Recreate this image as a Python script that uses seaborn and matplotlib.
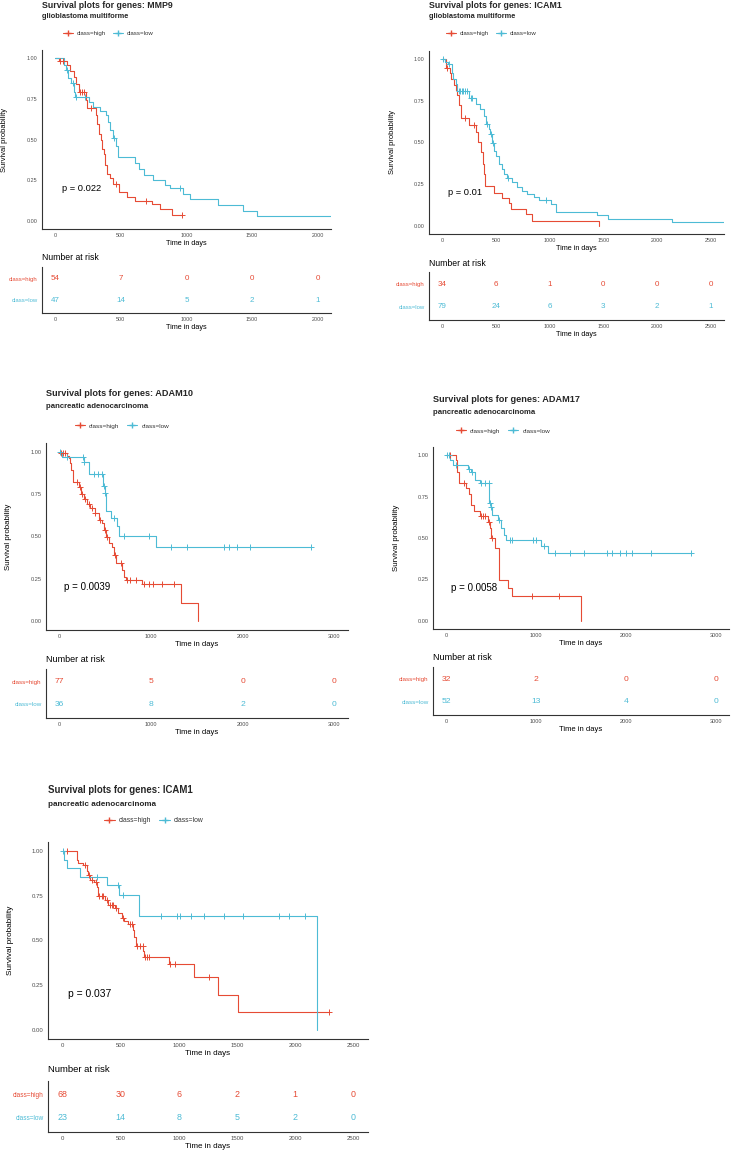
import numpy as np
import matplotlib
matplotlib.use("Agg")
import matplotlib.pyplot as plt
from matplotlib.lines import Line2D
import seaborn as sns

sns.set_style("white")
plt.rcParams['font.family'] = ['Liberation Sans', 'DejaVu Sans']

RED = '#E64B35'
BLUE = '#4DBBD5'
LABELS = ['class=high', 'class=low']

# ---- MMP9, glioblastoma multiforme ----
mmp9_high_t = [0, 33, 89, 114, 140, 160, 178, 236, 245, 310, 322, 335, 348, 360, 372, 383, 393, 419, 444, 489, 550, 608, 735, 798, 887, 963]
mmp9_high_s = [1, .985, .955, .924, .883, .843, .79, .74, .695, .648, .597, .536, .495, .444, .413, .342, .29, .265, .225, .176, .145, .123, .104, .072, .037, .037]
mmp9_high_c = [38, 63, 190, 205, 222, 272, 464, 692, 963]
mmp9_low_t = [0, 65, 80, 101, 119, 140, 152, 261, 292, 342, 388, 406, 418, 440, 464, 481, 609, 642, 673, 744, 838, 875, 976, 1027, 1242, 1429, 1536, 2150]
mmp9_low_s = [1, .96, .925, .88, .85, .79, .76, .73, .70, .677, .65, .61, .558, .51, .457, .39, .358, .32, .28, .25, .22, .20, .163, .133, .096, .061, .031, .031]
mmp9_low_c = [89, 135, 160, 229, 449, 950]
mmp9_risk_high = [54, 7, 0, 0, 0]
mmp9_risk_low = [47, 14, 5, 2, 1]

# ---- ICAM1, glioblastoma multiforme ----
icam_gbm_high_t = [0, 34, 72, 81, 109, 128, 140, 159, 175, 244, 316, 328, 359, 375, 391, 400, 484, 556, 619, 640, 775, 837, 1462]
icam_gbm_high_s = [1, .946, .916, .88, .845, .815, .785, .725, .645, .604, .565, .504, .444, .373, .313, .237, .199, .169, .137, .098, .07, .03, 0.0]
icam_gbm_high_c = [44, 214, 290]
icam_gbm_low_t = [0, 25, 56, 94, 103, 128, 140, 250, 316, 353, 384, 405, 431, 445, 465, 480, 500, 525, 556, 578, 600, 650, 697, 744, 790, 853, 900, 1009, 1056, 1440, 1547, 2140, 2650]
icam_gbm_low_s = [1, .985, .97, .92, .88, .85, .81, .77, .73, .70, .66, .61, .58, .55, .50, .45, .42, .37, .34, .31, .285, .26, .23, .21, .19, .17, .153, .13, .085, .062, .042, .022, .022]
icam_gbm_low_c = [9, 60, 150, 165, 180, 195, 210, 228, 265, 280, 416, 453, 469, 609, 962]
icam_gbm_risk_high = [34, 6, 1, 0, 0, 0]
icam_gbm_risk_low = [79, 24, 6, 3, 2, 1]

# ---- ADAM10, pancreatic adenocarcinoma ----
adam10_high_t = [0, 15, 80, 98, 116, 127, 145, 207, 233, 269, 298, 335, 382, 425, 462, 480, 509, 535, 571, 589, 615, 680, 698, 727, 898, 1327, 1509]
adam10_high_s = [1, .99, .975, .96, .93, .89, .82, .79, .75, .72, .69, .67, .64, .60, .58, .54, .50, .46, .44, .39, .345, .30, .26, .245, .22, .107, 0.0]
adam10_high_c = [18, 36, 62, 189, 225, 245, 280, 315, 355, 390, 435, 490, 520, 600, 669, 735, 764, 836, 916, 971, 1018, 1116, 1251]
adam10_low_t = [0, 25, 262, 316, 473, 491, 509, 564, 625, 651, 1055, 2742]
adam10_low_s = [1, .97, .94, .87, .80, .755, .65, .61, .56, .505, .44, .44]
adam10_low_c = [0, 80, 255, 270, 378, 415, 462, 480, 498, 589, 705, 978, 1218, 1389, 1796, 1855, 1942, 2084, 2742]
adam10_risk_high = [77, 5, 0, 0]
adam10_risk_low = [36, 8, 2, 0]

# ---- ADAM17, pancreatic adenocarcinoma ----
adam17_high_t = [0, 104, 118, 140, 222, 252, 278, 304, 370, 463, 489, 498, 537, 585, 685, 733, 1500]
adam17_high_s = [1, .97, .90, .835, .80, .765, .70, .665, .63, .595, .56, .50, .44, .245, .195, .147, 0.0]
adam17_high_c = [44, 196, 389, 407, 426, 470, 505, 952, 1252]
adam17_low_t = [0, 37, 74, 241, 278, 315, 370, 478, 498, 511, 574, 611, 637, 659, 1056, 1130, 2722]
adam17_low_s = [1, .97, .94, .92, .90, .85, .83, .71, .685, .64, .61, .56, .52, .49, .45, .41, .41]
adam17_low_c = [7, 30, 104, 252, 285, 389, 426, 470, 481, 500, 585, 704, 733, 963, 1000, 1093, 1211, 1378, 1537, 1785, 1844, 1933, 2007, 2074, 2278, 2722]
adam17_risk_high = [32, 2, 0, 0]
adam17_risk_low = [52, 13, 4, 0]

# ---- ICAM1, pancreatic adenocarcinoma ----
icam_paad_high_t = [0, 121, 135, 178, 213, 221, 236, 270, 293, 302, 365, 394, 451, 480, 509, 529, 566, 603, 615, 632, 695, 701, 911, 1132, 1333, 1506, 2290]
icam_paad_high_s = [1, .952, .933, .92, .89, .865, .84, .825, .80, .75, .725, .70, .68, .655, .625, .61, .59, .56, .52, .47, .44, .41, .37, .295, .195, .10, .10]
icam_paad_high_c = [34, 193, 225, 250, 287, 316, 336, 351, 380, 408, 422, 437, 460, 523, 580, 595, 644, 667, 690, 710, 724, 739, 920, 968, 1261, 2290]
icam_paad_low_t = [0, 11, 34, 149, 379, 486, 655, 2184]
icam_paad_low_s = [1, .95, .905, .857, .81, .755, .635, 0.0]
icam_paad_low_c = [6, 293, 480, 523, 845, 983, 1006, 1106, 1218, 1385, 1549, 1859, 1948, 2086]
icam_paad_risk_high = [68, 30, 6, 2, 1, 0]
icam_paad_risk_low = [23, 14, 8, 5, 2, 0]

genes = ['MMP9', 'ICAM1', 'ADAM10', 'ADAM17', 'ICAM1']
cancers = ['glioblastoma multiforme', 'glioblastoma multiforme', 'pancreatic adenocarcinoma',
           'pancreatic adenocarcinoma', 'pancreatic adenocarcinoma']
pvals = ['p = 0.022', 'p = 0.01', 'p = 0.0039', 'p = 0.0058', 'p = 0.037']
breaks = [[0, 500, 1000, 1500, 2000], [0, 500, 1000, 1500, 2000, 2500], [0, 1000, 2000, 3000],
          [0, 1000, 2000, 3000], [0, 500, 1000, 1500, 2000, 2500]]

curves = [
    (mmp9_high_t, mmp9_high_s, mmp9_high_c, mmp9_low_t, mmp9_low_s, mmp9_low_c, mmp9_risk_high, mmp9_risk_low),
    (icam_gbm_high_t, icam_gbm_high_s, icam_gbm_high_c, icam_gbm_low_t, icam_gbm_low_s, icam_gbm_low_c, icam_gbm_risk_high, icam_gbm_risk_low),
    (adam10_high_t, adam10_high_s, adam10_high_c, adam10_low_t, adam10_low_s, adam10_low_c, adam10_risk_high, adam10_risk_low),
    (adam17_high_t, adam17_high_s, adam17_high_c, adam17_low_t, adam17_low_s, adam17_low_c, adam17_risk_high, adam17_risk_low),
    (icam_paad_high_t, icam_paad_high_s, icam_paad_high_c, icam_paad_low_t, icam_paad_low_s, icam_paad_low_c, icam_paad_risk_high, icam_paad_risk_low),
]

# layout in pixels: km box, risk box, title xy, subtitle y, legend xy, "Number at risk" y, xlim, text scale
layout = [
    dict(km=(42, 50, 331, 229), risk=(42, 267, 331, 313), title=(42, 6), sub=17, leg=(63, 33), nar=257, xlim=(-100, 2100), sc=1.0),
    dict(km=(429, 51, 724, 234), risk=(429, 272, 724, 320), title=(429, 6), sub=17, leg=(446, 33), nar=263, xlim=(-125, 2625), sc=1.0),
    dict(km=(46, 443, 348, 630), risk=(46, 669, 348, 718), title=(46, 394), sub=407, leg=(75, 426), nar=660, xlim=(-150, 3150), sc=1.05),
    dict(km=(433, 447, 729, 629), risk=(433, 667, 729, 715), title=(433, 399), sub=412, leg=(456, 431), nar=658, xlim=(-150, 3150), sc=1.05),
    dict(km=(48, 842, 368, 1039), risk=(48, 1081, 368, 1132), title=(48, 790), sub=805, leg=(104, 821), nar=1070, xlim=(-125, 2625), sc=1.1),
]

W, H = 731, 1154
fig = plt.figure(figsize=(W / 100, H / 100), dpi=100)


def box(l, t, r, b):
    return [l / W, 1 - b / H, (r - l) / W, (b - t) / H]


def style_axes(ax, sc):
    sns.despine(ax=ax)
    for sp in ['left', 'bottom']:
        ax.spines[sp].set_color('#333333')
        ax.spines[sp].set_linewidth(0.8)
    ax.tick_params(direction='out', length=2, width=0.5, color='#333333',
                   labelcolor='#4D4D4D', labelsize=3.9 * sc, pad=1.2)


for i, lay in enumerate(layout):
    ht, hs, hc, lt, ls, lc, rh, rl = curves[i]
    sc = lay['sc']
    l, t, r, b = lay['km']

    # Kaplan-Meier panel
    ax = fig.add_axes(box(*lay['km']))
    for tt, ss, cc, col in [(ht, hs, hc, RED), (lt, ls, lc, BLUE)]:
        sns.lineplot(x=tt, y=ss, ax=ax, color=col, drawstyle='steps-post',
                     estimator=None, linewidth=0.8, legend=False)
        idx = np.searchsorted(tt, cc, side='right') - 1
        sns.scatterplot(x=cc, y=np.array(ss)[idx], ax=ax, marker='+', s=14,
                        color=col, linewidth=0.7, legend=False, zorder=3)
    ax.set_xlim(*lay['xlim'])
    ax.set_ylim(-0.05, 1.05)
    ax.set_xticks(breaks[i])
    ax.set_yticks([0, 0.25, 0.5, 0.75, 1.0])
    ax.set_yticklabels(['0.00', '0.25', '0.50', '0.75', '1.00'])
    ax.set_xlabel('')
    ax.set_ylabel('')
    style_axes(ax, sc)
    ax.text(50, 0.2, pvals[i], ha='left', va='center', fontsize=6.7 * sc, color='black')

    fig.text((l - 37) / W, 1 - (t + b) / 2 / H, 'Survival probability', rotation=90,
             ha='center', va='center', fontsize=5.4 * sc, color='black')
    fig.text((l + r) / 2 / W, 1 - (b + 14.5) / H, 'Time in days', ha='center', va='center',
             fontsize=5.2 * sc, color='black')

    # titles
    fig.text(lay['title'][0] / W, 1 - lay['title'][1] / H, 'Survival plots for genes: ' + genes[i],
             ha='left', va='center', fontsize=6.3 * sc, fontweight='bold')
    fig.text(lay['title'][0] / W, 1 - lay['sub'] / H, cancers[i],
             ha='left', va='center', fontsize=5.3 * sc, fontweight='bold')

    handles = [Line2D([], [], color=RED, marker='+', markersize=4, lw=0.8),
               Line2D([], [], color=BLUE, marker='+', markersize=4, lw=0.8)]
    leg = fig.legend(handles, LABELS, loc='center left',
                     bbox_to_anchor=(lay['leg'][0] / W, 1 - lay['leg'][1] / H),
                     ncol=2, frameon=False, fontsize=4.4 * sc, handlelength=1.6,
                     handletextpad=0.6, columnspacing=1.2, borderpad=0, borderaxespad=0)
    for txt in leg.get_texts():
        txt.set_color('#333333')

    # risk table
    rl_, rt_, rr_, rb_ = lay['risk']
    axr = fig.add_axes(box(*lay['risk']))
    axr.set_xlim(*lay['xlim'])
    axr.set_ylim(-0.6, 1.55)
    for row, vals, col in [(1, rh, RED), (0, rl, BLUE)]:
        for bx, n in zip(breaks[i], vals):
            axr.text(bx, row, str(n), ha='center', va='center', color=col, fontsize=5.8 * sc)
    axr.set_xticks(breaks[i])
    axr.set_yticks([1, 0])
    axr.set_yticklabels(LABELS)
    style_axes(axr, sc)
    for lab, col in zip(axr.get_yticklabels(), [RED, BLUE]):
        lab.set_color(col)
        lab.set_fontsize(4.3 * sc)
    fig.text(rl_ / W, 1 - lay['nar'] / H, 'Number at risk', ha='left', va='center',
             fontsize=6.2 * sc, color='black')
    fig.text((rl_ + rr_) / 2 / W, 1 - (rb_ + 14.5) / H, 'Time in days', ha='center', va='center',
             fontsize=5.2 * sc, color='black')

fig.savefig('out.png', dpi=100)
